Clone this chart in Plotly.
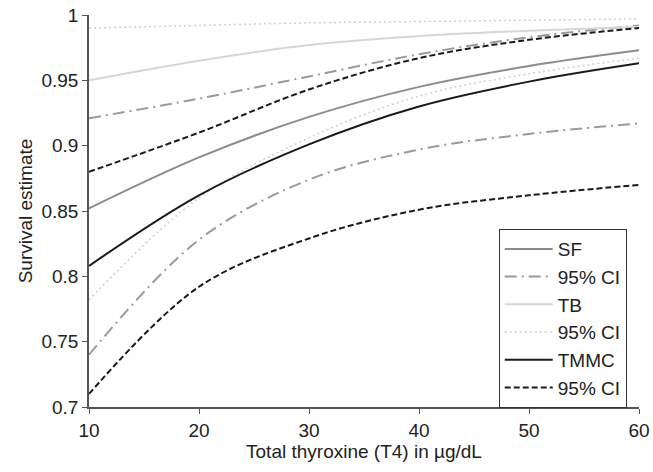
import plotly.graph_objects as go

x = [10, 20, 30, 40, 50, 60]
sf = [0.852, 0.891, 0.922, 0.945, 0.961, 0.973]
sf_hi = [0.921, 0.936, 0.953, 0.970, 0.983, 0.992]
sf_lo = [0.740, 0.828, 0.874, 0.897, 0.909, 0.917]
tb = [0.950, 0.965, 0.977, 0.984, 0.988, 0.991]
tb_hi = [0.990, 0.992, 0.994, 0.995, 0.996, 0.997]
tb_lo = [0.782, 0.860, 0.906, 0.938, 0.955, 0.967]
tmmc = [0.808, 0.862, 0.901, 0.930, 0.949, 0.963]
tmmc_hi = [0.880, 0.910, 0.943, 0.967, 0.981, 0.990]
tmmc_lo = [0.710, 0.792, 0.829, 0.851, 0.862, 0.870]

series = [
    ("SF", sf, "#8c8c8c", "solid", 2),
    ("95% CI", sf_hi, "#9a9a9a", "12px,5px,2px,5px", 2),
    ("TB", tb, "#d6d6d6", "solid", 2),
    ("95% CI", tb_hi, "#cfcfcf", "2px,3px", 1.5),
    ("TMMC", tmmc, "#1a1a1a", "solid", 2),
    ("95% CI", tmmc_hi, "#1a1a1a", "6px,3px", 2),
]
lower = {1: sf_lo, 3: tb_lo, 5: tmmc_lo}

fig = go.Figure()
for i, (name, ys, col, dash, w) in enumerate(series):
    fig.add_trace(go.Scatter(x=x, y=ys, mode="lines", name=name,
                             line=dict(color=col, dash=dash, width=w, shape="spline"),
                             legendgroup=str(i)))
    if i in lower:
        fig.add_trace(go.Scatter(x=x, y=lower[i], mode="lines", name=name, showlegend=False,
                                 line=dict(color=col, dash=dash, width=w, shape="spline"),
                                 legendgroup=str(i)))

axis_common = dict(showline=True, linecolor="#555555", linewidth=1.5, ticks="outside",
                   ticklen=5, tickcolor="#555555", showgrid=False, zeroline=False,
                   automargin=False, tickfont=dict(size=19, color="#222222"))
fig.update_layout(
    width=653, height=472,
    margin=dict(l=89, r=14, t=15, b=65),
    paper_bgcolor="white", plot_bgcolor="white",
    font=dict(family="Liberation Sans, Arial, sans-serif", size=19, color="#222222"),
    xaxis=dict(range=[10, 60], tickvals=[10, 20, 30, 40, 50, 60],
               title=dict(text="Total thyroxine (T4) in µg/dL", standoff=4,
                          font=dict(size=19)), **axis_common),
    yaxis=dict(range=[0.7, 1.0], tickvals=[0.7, 0.75, 0.8, 0.85, 0.9, 0.95, 1.0],
               ticktext=["0.7", "0.75", "0.8", "0.85", "0.9", "0.95", "1"],
               title=dict(text="Survival estimate", standoff=4,
                          font=dict(size=19)), **axis_common),
    legend=dict(x=0.745, y=0.454, xanchor="left", yanchor="top",
                bgcolor="white", bordercolor="#333333", borderwidth=1,
                font=dict(size=19), tracegroupgap=0, itemwidth=48),
    showlegend=True,
)
fig.write_html("out.html", config={"displayModeBar": False},
               post_script="document.body.style.margin='0';document.body.style.overflow='hidden';")
